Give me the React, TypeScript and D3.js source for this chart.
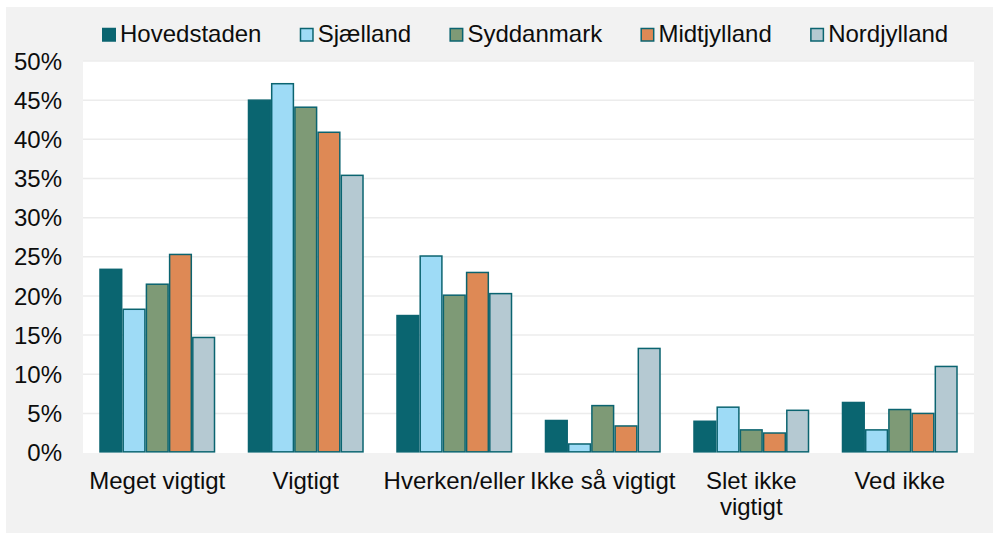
import React from "react";
import * as d3 from "d3";

const categories = ["Meget vigtigt", "Vigtigt", "Hverken/eller", "Ikke så vigtigt", "Slet ikke vigtigt", "Ved ikke"];
const seriesNames = ["Hovedstaden", "Sjælland", "Syddanmark", "Midtjylland", "Nordjylland"];
const hovedstaden = [23.4, 45.0, 17.5, 4.1, 4.0, 6.4];
const sjaelland = [18.3, 47.1, 25.1, 1.1, 5.8, 2.9];
const syddanmark = [21.5, 44.1, 20.1, 6.0, 2.9, 5.5];
const midtjylland = [25.3, 40.9, 23.0, 3.4, 2.5, 5.0];
const nordjylland = [14.7, 35.4, 20.3, 13.3, 5.4, 11.0];
const seriesValues = [hovedstaden, sjaelland, syddanmark, midtjylland, nordjylland];
const seriesColors = ["#0a6570", "#9edbf6", "#7e9a76", "#de8955", "#b5c9d2"];
const yTicks = [0, 5, 10, 15, 20, 25, 30, 35, 40, 45, 50];

const W = 993;
const H = 533;
const FONT = "'Liberation Sans', Arial, sans-serif";
const FS = 24;
const STROKE = "#0b6470";

let ctx: CanvasRenderingContext2D | null = null;
function measure(t: string) {
  if (!ctx) {
    const c = document.createElement("canvas");
    ctx = c.getContext("2d");
  }
  if (!ctx) return t.length * FS * 0.5;
  ctx.font = `${FS}px 'Liberation Sans'`;
  return ctx.measureText(t).width;
}

function wrap(t: string, maxW: number) {
  const words = t.split(" ");
  const lines: string[] = [];
  let cur = "";
  for (const w of words) {
    const test = cur ? cur + " " + w : w;
    if (cur && measure(test) > maxW) {
      lines.push(cur);
      cur = w;
    } else cur = test;
  }
  if (cur) lines.push(cur);
  return lines;
}

export default function App() {
  const plot = { left: 83, right: 974, top: 61, bottom: 453 };
  const x = d3.scaleBand<string>().domain(categories).range([plot.left, plot.right]).padding(0);
  const xi = d3
    .scaleBand<string>()
    .domain(seriesNames)
    .range([0, x.step()])
    .paddingInner(0)
    .paddingOuter(0.7);
  const y = d3.scaleLinear().domain([0, 50]).range([452.6, plot.top]);

  // legend layout
  let lx = 102;
  const legendItems = seriesNames.map((name, i) => {
    const item = { name, x: lx, color: seriesColors[i] };
    lx += 18 + measure(name) + 38.3;
    return item;
  });

  return (
    <svg width={W} height={H} style={{ position: "absolute", left: 0, top: 0, fontFamily: FONT }}>
      <rect x={6} y={7} width={W - 6} height={526} fill="#f2f2f2" />
      <rect x={plot.left} y={plot.top} width={plot.right - plot.left} height={plot.bottom - plot.top} fill="#ffffff" />
      {yTicks.slice(1).map((t) => (
        <line key={t} x1={plot.left} x2={plot.right} y1={y(t)} y2={y(t)} stroke="#ececec" strokeWidth={1.5} />
      ))}
      {yTicks.map((t) => (
        <text key={t} x={62} y={y(t)} dy="0.36em" textAnchor="end" fontSize={FS} fill="#0d0d0d">
          {t + "%"}
        </text>
      ))}
      {categories.map((c, ci) =>
        seriesNames.map((s, si) => {
          const v = seriesValues[si][ci];
          const bx = (x(c) ?? 0) + (xi(s) ?? 0);
          return (
            <rect
              key={c + s}
              x={bx + 0.75}
              y={y(v)}
              width={xi.bandwidth() - 1.5}
              height={y(0) - y(v) - 0.75}
              fill={seriesColors[si]}
              stroke={STROKE}
              strokeWidth={1.5}
            />
          );
        })
      )}
      {categories.map((c) => {
        const lines = wrap(c, x.step());
        const cx = (x(c) ?? 0) + x.bandwidth() / 2;
        return (
          <text key={c} x={cx} y={489} textAnchor="middle" fontSize={FS} fill="#0d0d0d">
            {lines.map((l, i) => (
              <tspan key={i} x={cx} dy={i === 0 ? 0 : 26}>
                {l}
              </tspan>
            ))}
          </text>
        );
      })}
      {legendItems.map((it) => (
        <g key={it.name}>
          <rect x={it.x + 0.75} y={28.5} width={12.5} height={12.5} fill={it.color} stroke={STROKE} strokeWidth={1.5} />
          <text x={it.x + 18} y={42} fontSize={FS} fill="#0d0d0d">
            {it.name}
          </text>
        </g>
      ))}
    </svg>
  );
}
